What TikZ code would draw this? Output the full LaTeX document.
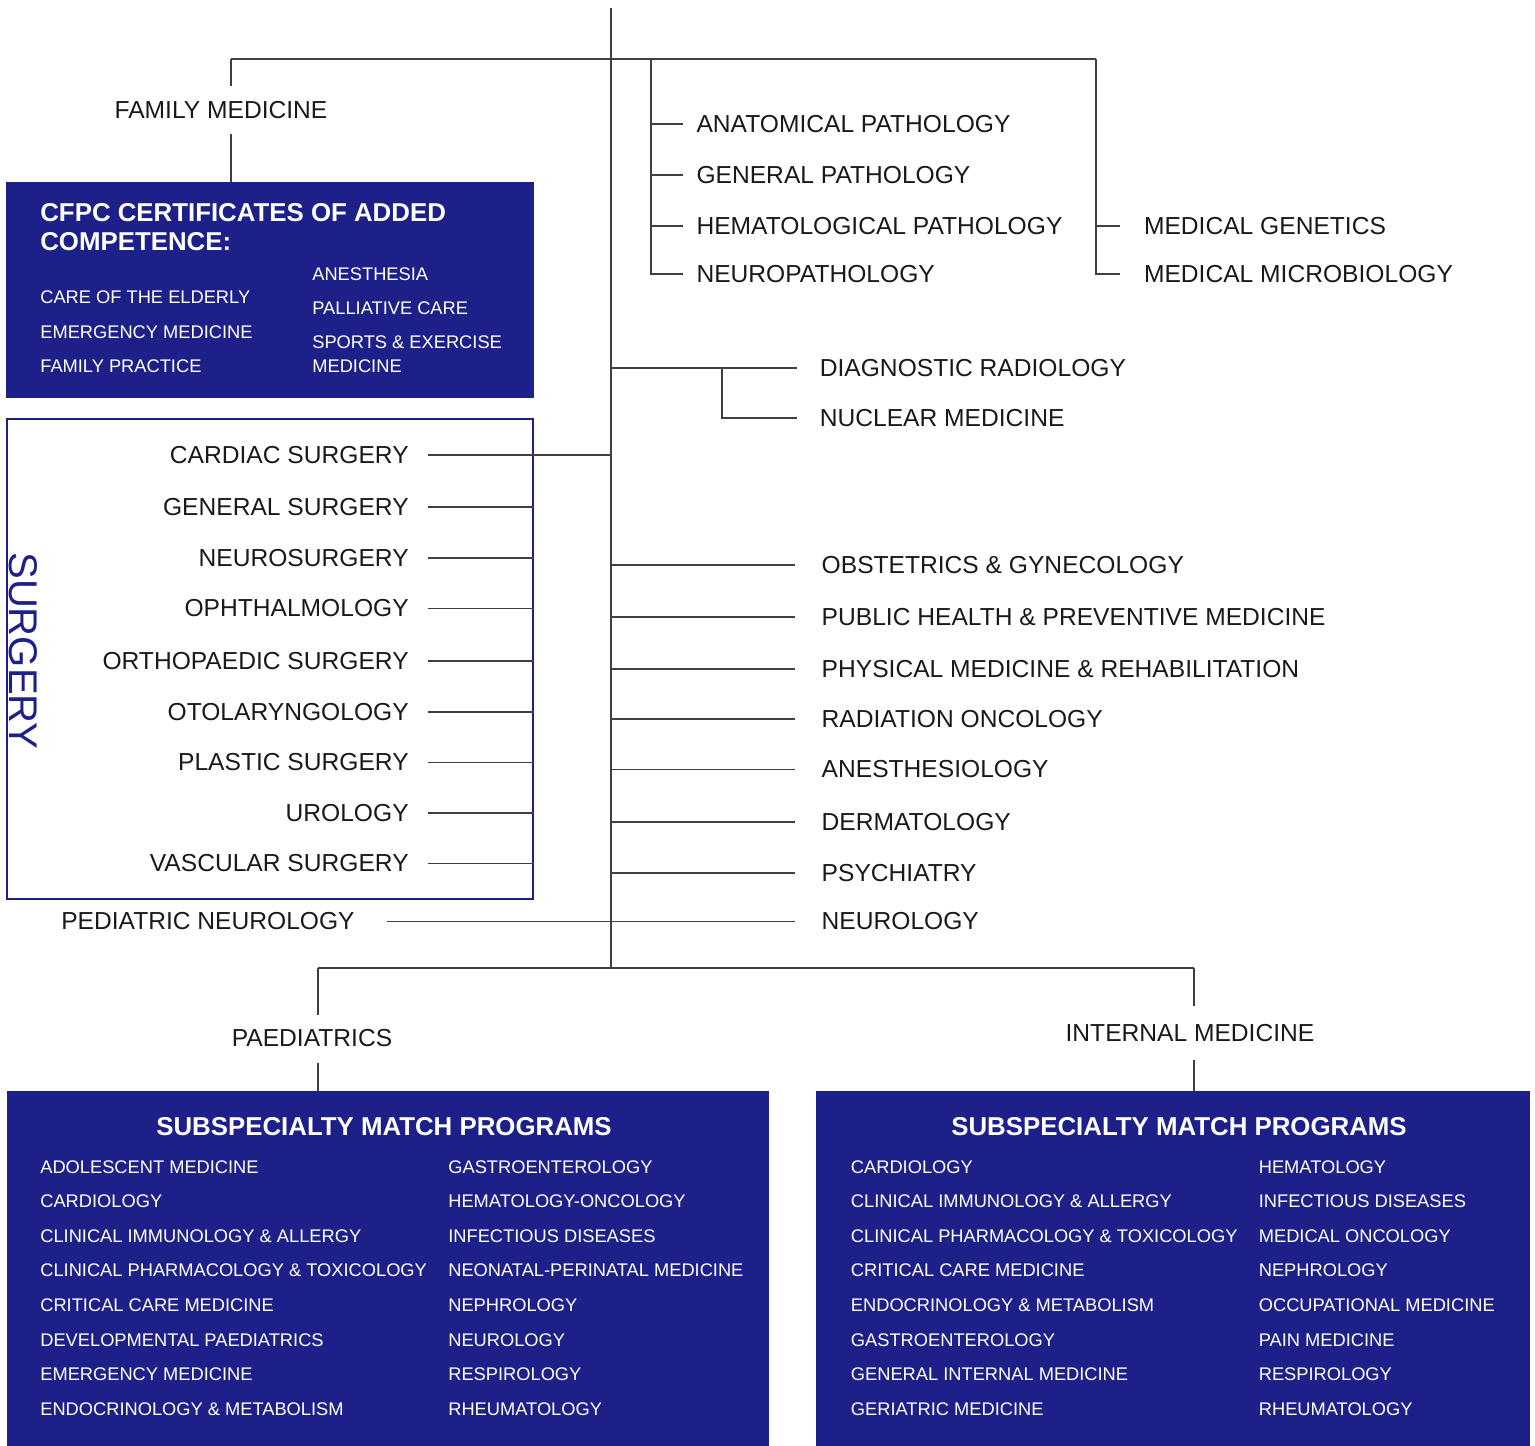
\documentclass[tikz,border=0pt]{standalone}
\usepackage{fontspec}
\setmainfont{Liberation Sans}
\usepackage{tikz}
\usetikzlibrary{fit}
\definecolor{navy}{RGB}{30,32,138}
\tikzstyle{conn}=[draw=black!75, line width=0.6pt]
\tikzstyle{spec}=[inner ysep=0pt, text=black!90, font=\fontsize{14}{16}\selectfont]
\tikzstyle{boxtext}=[inner sep=0pt, text=white, align=left, font=\fontsize{10.4}{19.7}\selectfont]
\tikzstyle{boxhead}=[inner sep=0pt, text=white, align=left, font=\bfseries\fontsize{14.7}{16.8}\selectfont]
\tikzstyle{bluebox}=[inner sep=0pt, fill=navy]

\begin{document}
\begin{tikzpicture}[x=0.02cm, y=-0.02cm]
   \useasboundingbox (0,0) rectangle (1535,1446);
   % trunk and buses
   \coordinate (top) at (611,8);
   \coordinate (bot) at (611,968);
   \coordinate (fmx) at (231,59);
   \coordinate (pathx) at (651,59);
   \coordinate (genx) at (1096,59);
   \coordinate (radx) at (722,368);
   \coordinate (paedx) at (318,968);
   \coordinate (imx) at (1194,968);
   \draw[conn] (top) -- (bot);
   \draw[conn] (fmx) -- (genx);
   \draw[conn] (paedx) -- (imx);

   % family medicine
   \node[spec, inner ysep=8.5pt] (fammed) at (221,110) {FAMILY MEDICINE};
   \node[bluebox, fit={(6,182) (534,398)}] (cfpc) {};
   \node[boxhead, anchor=west] (cfpchead) at (40,227) {CFPC CERTIFICATES OF ADDED\\COMPETENCE:};
   \node[boxtext, anchor=west] (cfpcl) at (40,332) {CARE OF THE ELDERLY\\EMERGENCY MEDICINE\\FAMILY PRACTICE};
   \node[boxtext, anchor=west] (anesth) at (312,274) {ANESTHESIA};
   \node[boxtext, anchor=west] (palli) at (312,308.5) {PALLIATIVE CARE};
   \node[boxtext, anchor=west, font=\fontsize{10.4}{13.7}\selectfont] (sports) at (312,354.5) {SPORTS \& EXERCISE\\MEDICINE};
   \draw[conn] (fmx) -- (fmx |- fammed.north);
   \draw[conn] (fmx |- fammed.south) -- (fmx |- cfpc.north);

   % laboratory medicine
   \node[spec, anchor=west, inner xsep=7.5pt] (anat) at (683,124) {ANATOMICAL PATHOLOGY};
   \node[spec, anchor=west, inner xsep=7.5pt] (genpath) at (683,175) {GENERAL PATHOLOGY};
   \node[spec, anchor=west, inner xsep=7.5pt] (hemapath) at (683,226) {HEMATOLOGICAL PATHOLOGY};
   \node[spec, anchor=west, inner xsep=7.5pt] (neuropath) at (683,274) {NEUROPATHOLOGY};
   \draw[conn] (pathx) -- (pathx |- neuropath.west) -- (neuropath.west);
   \draw[conn] (pathx |- anat.west) -- (anat.west);
   \draw[conn] (pathx |- genpath.west) -- (genpath.west);
   \draw[conn] (pathx |- hemapath.west) -- (hemapath.west);
   \node[spec, anchor=west, inner xsep=13.5pt] (medgen) at (1120,226) {MEDICAL GENETICS};
   \node[spec, anchor=west, inner xsep=13.5pt] (medmicro) at (1120,274) {MEDICAL MICROBIOLOGY};
   \draw[conn] (genx) -- (genx |- medmicro.west) -- (medmicro.west);
   \draw[conn] (genx |- medgen.west) -- (medgen.west);

   % radiology
   \node[spec, anchor=west, inner xsep=12.8pt] (diagrad) at (797,368) {DIAGNOSTIC RADIOLOGY};
   \node[spec, anchor=west, inner xsep=12.8pt] (nucmed) at (797,418) {NUCLEAR MEDICINE};
   \draw[conn] (top |- diagrad.west) -- (diagrad.west);
   \draw[conn] (radx) -- (radx |- nucmed.west) -- (nucmed.west);

   % surgery
   \node[draw=navy, line width=1.1pt, inner sep=0pt, fit={(7,419) (533,899)}] (surgbox) {};
   \node[rotate=-90, inner sep=0pt, text=navy, font=\fontsize{22.8}{24}\selectfont] (surglbl) at (23,651) {SURGERY};
   \node[spec, anchor=east, inner xsep=10.8pt] (cardsurg) at (428,455) {CARDIAC SURGERY};
   \node[spec, anchor=east, inner xsep=10.8pt] (gensurg) at (428,507) {GENERAL SURGERY};
   \node[spec, anchor=east, inner xsep=10.8pt] (neurosurg) at (428,558) {NEUROSURGERY};
   \node[spec, anchor=east, inner xsep=10.8pt] (ophth) at (428,608.5) {OPHTHALMOLOGY};
   \node[spec, anchor=east, inner xsep=10.8pt] (ortho) at (428,661) {ORTHOPAEDIC SURGERY};
   \node[spec, anchor=east, inner xsep=10.8pt] (otol) at (428,712) {OTOLARYNGOLOGY};
   \node[spec, anchor=east, inner xsep=10.8pt] (plastic) at (428,762.5) {PLASTIC SURGERY};
   \node[spec, anchor=east, inner xsep=10.8pt] (urol) at (428,813) {UROLOGY};
   \node[spec, anchor=east, inner xsep=10.8pt] (vascsurg) at (428,863.5) {VASCULAR SURGERY};
   \draw[conn] (cardsurg.east) -- (cardsurg.east -| top);
   \draw[conn] (gensurg.east) -- (gensurg.east -| surgbox.east);
   \draw[conn] (neurosurg.east) -- (neurosurg.east -| surgbox.east);
   \draw[conn] (ophth.east) -- (ophth.east -| surgbox.east);
   \draw[conn] (ortho.east) -- (ortho.east -| surgbox.east);
   \draw[conn] (otol.east) -- (otol.east -| surgbox.east);
   \draw[conn] (plastic.east) -- (plastic.east -| surgbox.east);
   \draw[conn] (urol.east) -- (urol.east -| surgbox.east);
   \draw[conn] (vascsurg.east) -- (vascsurg.east -| surgbox.east);

   % single specialties
   \node[spec, anchor=west, inner xsep=15pt] (obgyn) at (795,565) {OBSTETRICS \& GYNECOLOGY};
   \node[spec, anchor=west, inner xsep=15pt] (pubhealth) at (795,617) {PUBLIC HEALTH \& PREVENTIVE MEDICINE};
   \node[spec, anchor=west, inner xsep=15pt] (physmed) at (795,669) {PHYSICAL MEDICINE \& REHABILITATION};
   \node[spec, anchor=west, inner xsep=15pt] (radonc) at (795,719) {RADIATION ONCOLOGY};
   \node[spec, anchor=west, inner xsep=15pt] (anesthes) at (795,769.5) {ANESTHESIOLOGY};
   \node[spec, anchor=west, inner xsep=15pt] (derm) at (795,822) {DERMATOLOGY};
   \node[spec, anchor=west, inner xsep=15pt] (psych) at (795,873) {PSYCHIATRY};
   \node[spec, anchor=west, inner xsep=15pt] (neuro) at (795,921.5) {NEUROLOGY};
   \node[spec, anchor=east, inner xsep=18.2pt] (pedneuro) at (387,921.5) {PEDIATRIC NEUROLOGY};
   \draw[conn] (top |- obgyn.west) -- (obgyn.west);
   \draw[conn] (top |- pubhealth.west) -- (pubhealth.west);
   \draw[conn] (top |- physmed.west) -- (physmed.west);
   \draw[conn] (top |- radonc.west) -- (radonc.west);
   \draw[conn] (top |- anesthes.west) -- (anesthes.west);
   \draw[conn] (top |- derm.west) -- (derm.west);
   \draw[conn] (top |- psych.west) -- (psych.west);
   \draw[conn] (pedneuro.east) -- (neuro.west);

   % paediatrics
   \node[spec, inner ysep=8.5pt] (paed) at (312,1038.5) {PAEDIATRICS};
   \node[bluebox, fit={(7,1091) (769,1446)}] (paedbox) {};
   \node[boxhead] (paedhead) at (384,1127) {SUBSPECIALTY MATCH PROGRAMS};
   \node[boxtext, anchor=west] (paedl) at (40,1288) {ADOLESCENT MEDICINE\\CARDIOLOGY\\CLINICAL IMMUNOLOGY \& ALLERGY\\CLINICAL PHARMACOLOGY \& TOXICOLOGY\\CRITICAL CARE MEDICINE\\DEVELOPMENTAL PAEDIATRICS\\EMERGENCY MEDICINE\\ENDOCRINOLOGY \& METABOLISM};
   \node[boxtext, anchor=west] (paedr) at (448,1288) {GASTROENTEROLOGY\\HEMATOLOGY-ONCOLOGY\\INFECTIOUS DISEASES\\NEONATAL-PERINATAL MEDICINE\\NEPHROLOGY\\NEUROLOGY\\RESPIROLOGY\\RHEUMATOLOGY};
   \draw[conn] (paedx) -- (paedx |- paed.north);
   \draw[conn] (paedx |- paed.south) -- (paedx |- paedbox.north);

   % internal medicine
   \node[spec, inner ysep=10pt] (intmed) at (1190,1033) {INTERNAL MEDICINE};
   \node[bluebox, fit={(816,1091) (1530,1446)}] (imbox) {};
   \node[boxhead] (imhead) at (1179,1127) {SUBSPECIALTY MATCH PROGRAMS};
   \node[boxtext, anchor=west] (iml) at (850.6,1288) {CARDIOLOGY\\CLINICAL IMMUNOLOGY \& ALLERGY\\CLINICAL PHARMACOLOGY \& TOXICOLOGY\\CRITICAL CARE MEDICINE\\ENDOCRINOLOGY \& METABOLISM\\GASTROENTEROLOGY\\GENERAL INTERNAL MEDICINE\\GERIATRIC MEDICINE};
   \node[boxtext, anchor=west] (imr) at (1258.5,1288) {HEMATOLOGY\\INFECTIOUS DISEASES\\MEDICAL ONCOLOGY\\NEPHROLOGY\\OCCUPATIONAL MEDICINE\\PAIN MEDICINE\\RESPIROLOGY\\RHEUMATOLOGY};
   \draw[conn] (imx) -- (imx |- intmed.north);
   \draw[conn] (imx |- intmed.south) -- (imx |- imbox.north);
\end{tikzpicture}
\end{document}
